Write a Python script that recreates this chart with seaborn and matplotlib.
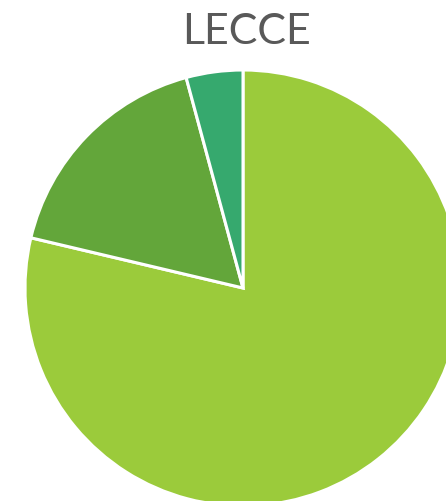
import matplotlib
matplotlib.use("Agg")
import matplotlib.pyplot as plt
import seaborn as sns

# Share of each category for Lecce
categories = ["A", "B", "C"]
shares = [78.7, 17.1, 4.2]
slice_colors = ["#9BCB3B", "#63A63A", "#36A96E"]
title = "LECCE"

sns.set_theme(style="white")
plt.rcParams["font.family"] = ["Lato", "DejaVu Sans"]

fig = plt.figure(figsize=(4.46, 5.01), dpi=100)
ax = fig.add_axes([0, 0, 1, 1])
ax.pie(shares, colors=sns.color_palette(slice_colors), startangle=90,
       counterclock=False, radius=1.0,
       wedgeprops=dict(edgecolor="white", linewidth=2.2))
ax.set_xlim(-243 / 218, (446 - 243) / 218)
ax.set_ylim(-(501 - 288) / 218, 288 / 218)
ax.set_aspect("equal")
ax.axis("off")

fig.text(246 / 446, 1 - 32.5 / 501, title, ha="center", va="center",
         fontsize=31, color="#595959")

fig.savefig("out.png", dpi=100)
